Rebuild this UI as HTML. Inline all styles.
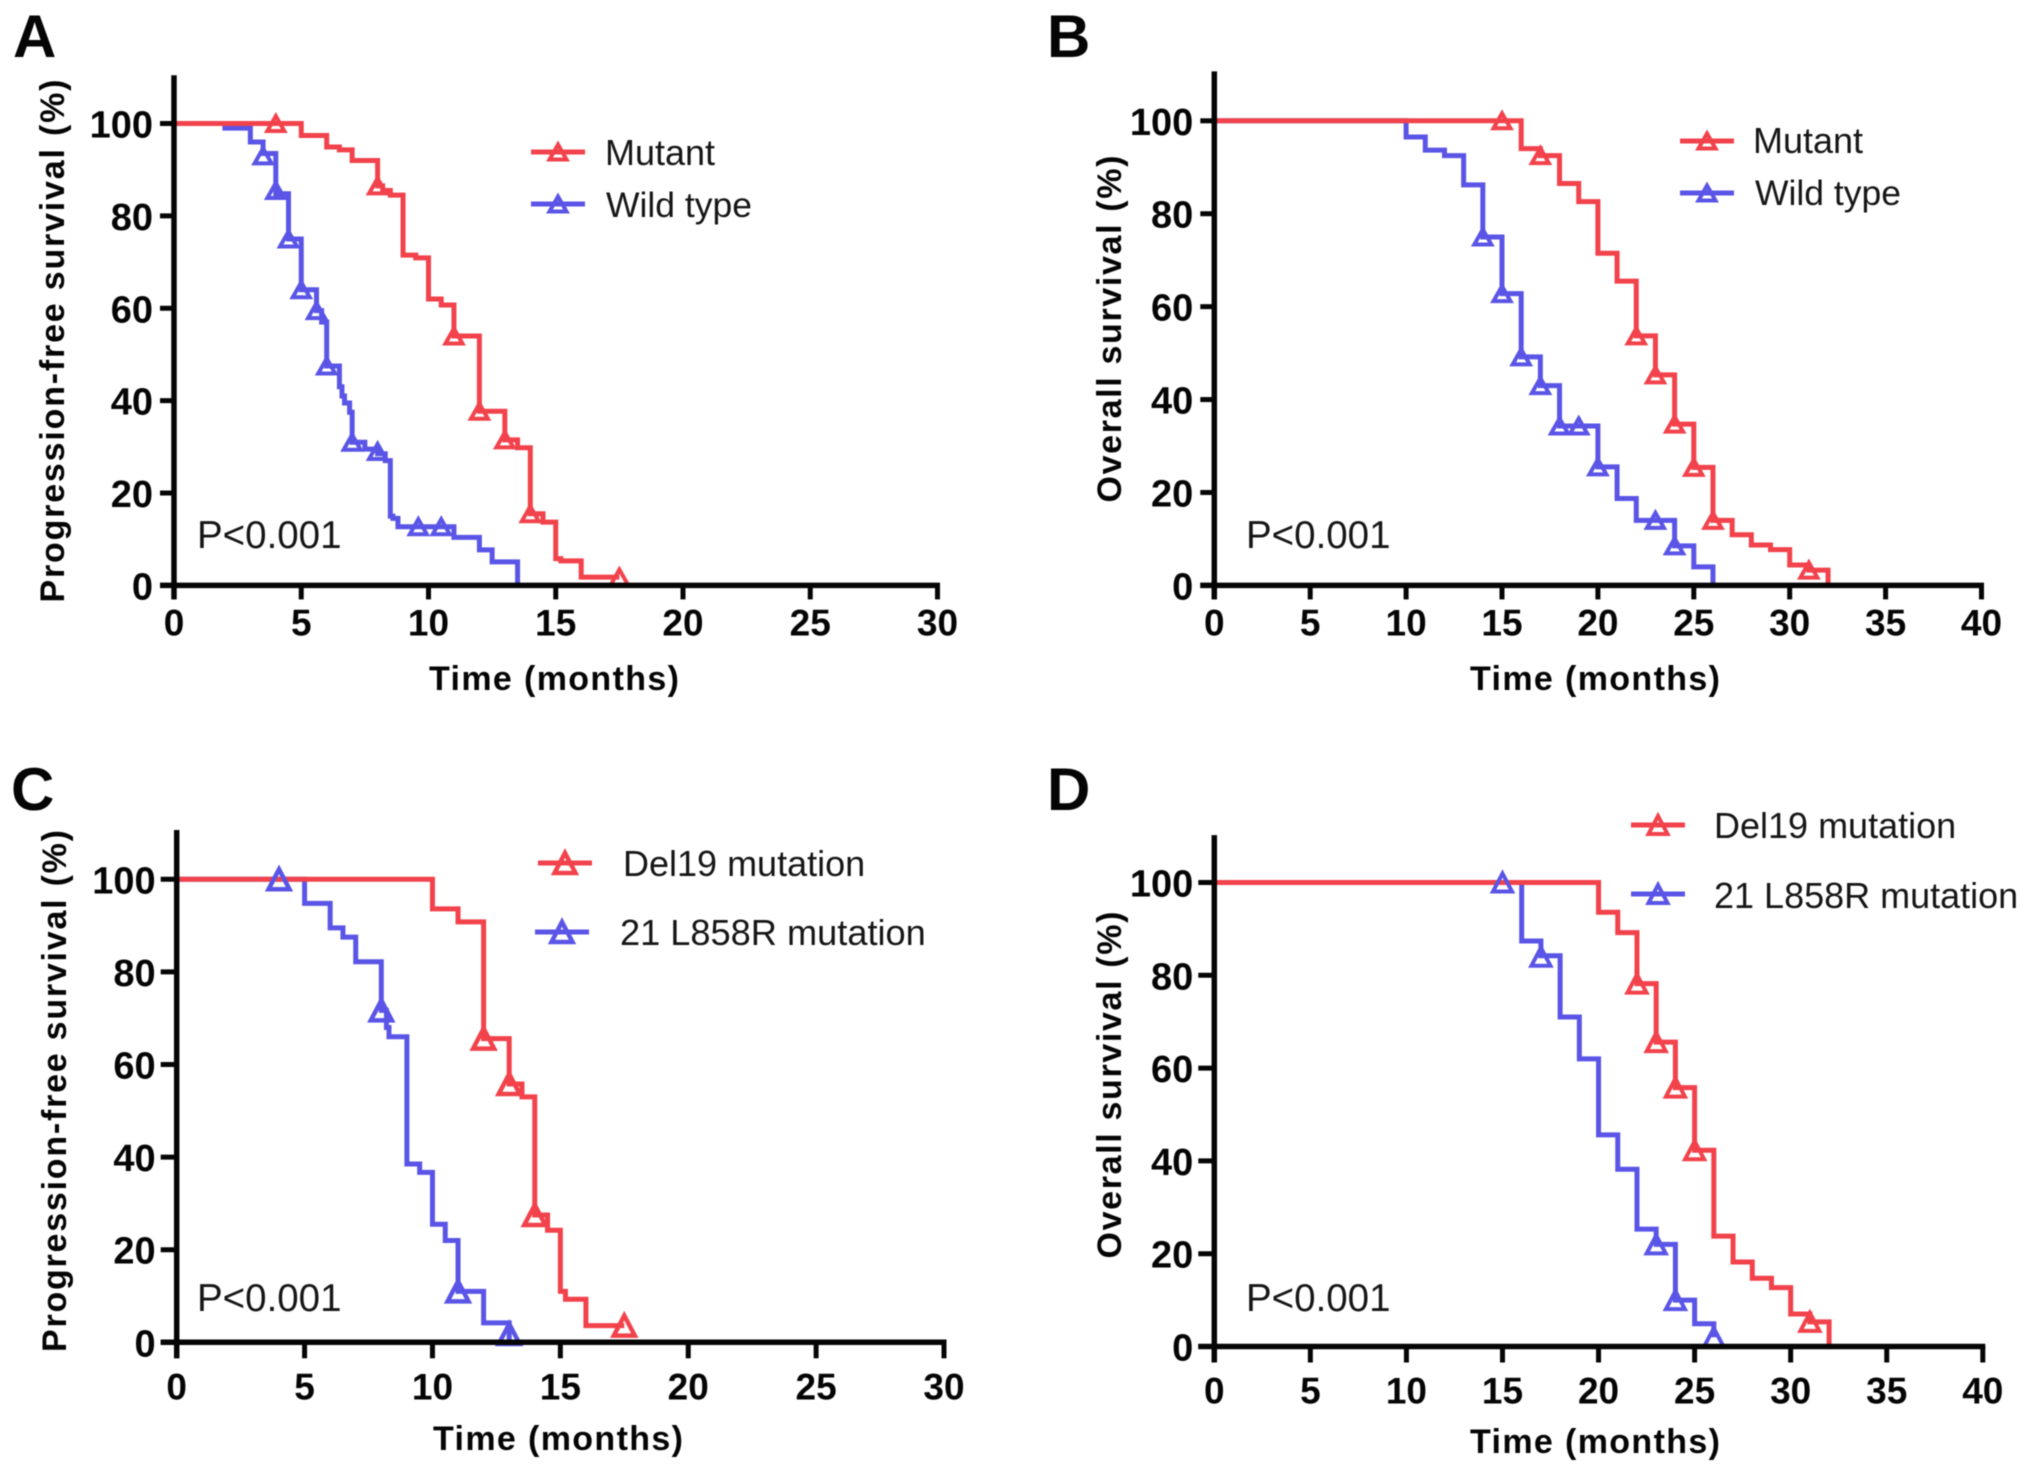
<!DOCTYPE html>
<html lang="en">
<head>
<meta charset="utf-8">
<title>Kaplan-Meier survival curves</title>
<style>
html,body{margin:0;padding:0;background:#fff;}
svg{display:block;filter:blur(0.6px);}
text{font-family:"Liberation Sans",Arial,sans-serif;}
</style>
</head>
<body>
<svg id="figure" xmlns="http://www.w3.org/2000/svg" width="2031" height="1474" viewBox="0 0 2031 1474"></svg>
<script>
var survivalTicks = [0, 20, 40, 60, 80, 100];
var monthTicks30 = [0, 5, 10, 15, 20, 25, 30];
var monthTicks40 = [0, 5, 10, 15, 20, 25, 30, 35, 40];

var aMutantTimes = [0, 5, 6, 6.5, 7, 8, 8.2, 8.5, 9, 9.5, 10, 10.5, 11, 12, 13, 13.5, 14, 14.5, 15, 15.2, 16, 17.5];
var aMutantSurvival = [100, 97.4, 94.9, 94.3, 92, 86.5, 85.5, 84.5, 71.5, 70.9, 62, 60.7, 54, 37.7, 31.5, 29.8, 15.5, 13.7, 5.8, 5.3, 1.8, 1.8];
var aMutantCensorTimes = [4, 8, 11, 12, 13, 14, 17.5];
var aMutantCensorSurvival = [100, 86.5, 54, 37.7, 31.5, 15.5, 1.8];
var aWildTimes = [0, 2, 3, 3.5, 4, 4.5, 5, 5.6, 5.8, 6, 6.5, 6.6, 6.7, 6.9, 7, 7.5, 8, 8.3, 8.5, 8.6, 8.8, 11, 12, 12.5, 13.5];
var aWildSurvival = [100, 99, 96, 93.5, 84.8, 75, 64, 59.5, 57, 47.5, 43, 41, 39.5, 37.5, 31, 29.5, 28.5, 27, 15, 14.5, 12.7, 10.4, 7.7, 5.1, 0];
var aWildCensorTimes = [3.5, 4, 4.5, 5, 5.6, 6, 7, 8, 9.6, 10.5];
var aWildCensorSurvival = [93, 85.5, 75, 64, 59.5, 47.5, 31, 29, 12.7, 12.7];

var bMutantTimes = [0, 16, 17, 18, 19, 20, 21, 22, 23, 24, 25, 26, 27, 28, 29, 30, 31, 32];
var bMutantSurvival = [100, 94, 92.5, 86.5, 82.6, 71.5, 65.5, 53.7, 45.3, 34.7, 25.4, 14, 10.9, 8.7, 7.7, 4.4, 3.3, 0];
var bMutantCensorTimes = [15, 17, 22, 23, 24, 25, 26, 31];
var bMutantCensorSurvival = [100, 92.5, 53.7, 45.3, 34.7, 25.4, 14, 3.3];
var bWildTimes = [0, 10, 11, 12, 13, 14, 15, 16, 17, 18, 20, 21, 22, 24, 25, 26];
var bWildSurvival = [100, 96.5, 93.7, 92.5, 86.2, 75, 62.8, 49.2, 43, 34.3, 25.5, 18.7, 14, 8.5, 4, 0];
var bWildCensorTimes = [14, 15, 16, 17, 18, 19, 20, 23, 24];
var bWildCensorSurvival = [75, 62.8, 49.2, 43, 34.3, 34.3, 25.5, 14, 8.5];

var cDel19Times = [0, 10, 11, 12, 13, 13.5, 14, 14.5, 15, 15.2, 16, 17.5];
var cDel19Survival = [100, 93.6, 90.8, 65.6, 55.8, 53, 27.5, 24.2, 11, 9.3, 3.6, 3.6];
var cDel19CensorTimes = [12, 13, 14, 17.5];
var cDel19CensorSurvival = [65.6, 55.8, 27.5, 3.6];
var cL858Times = [0, 5, 6, 6.5, 7, 8, 8.2, 8.3, 9, 9.5, 10, 10.5, 11, 12, 13];
var cL858Survival = [100, 94.8, 89.5, 87.5, 82.2, 71.7, 68, 66, 38.5, 36.7, 25.5, 22, 11, 4.2, 0];
var cL858CensorTimes = [4, 8, 11, 13];
var cL858CensorSurvival = [100, 71.7, 11, 1.8];

var dDel19Times = [0, 20, 21, 22, 23, 24, 25, 26, 27, 28, 29, 30, 31, 32];
var dDel19Survival = [100, 93.6, 89.2, 78.2, 65.6, 55.8, 42.3, 23.8, 18.2, 14.7, 12.7, 7, 5.3, 0];
var dDel19CensorTimes = [22, 23, 24, 25, 31];
var dDel19CensorSurvival = [78.2, 65.6, 55.8, 42.3, 5.3];
var dL858Times = [0, 16, 17, 18, 19, 20, 21, 22, 23, 24, 25, 26];
var dL858Survival = [100, 87.4, 84.2, 71, 62, 45.6, 38.2, 25.3, 22, 10, 4.9, 2];
var dL858CensorTimes = [15, 17, 23, 24, 26];
var dL858CensorSurvival = [100, 84, 22, 10, 2];

var RED = '#f2424b';
var BLUE = '#5a55e6';
var INK = '#050505';
var SOFT_INK = '#161616';
var NS = 'http://www.w3.org/2000/svg';
var figure = document.getElementById('figure');

function svgEl(tag, parent) {
  var el = document.createElementNS(NS, tag);
  parent.appendChild(el);
  return el;
}
function setAll(el, props) {
  for (var k in props) el.setAttribute(k, props[k]);
  return el;
}
function stepPath(times, values, xf, yf) {
  var d = 'M' + xf(times[0]) + ' ' + yf(values[0]);
  for (var i = 1; i < times.length; i++) {
    d += 'H' + xf(times[i]) + 'V' + yf(values[i]);
  }
  return d;
}
function trianglePoints(cx, cy, hw, hh) {
  return cx + ',' + (cy - hh) + ' ' + (cx + hw) + ',' + (cy + hh) + ' ' + (cx - hw) + ',' + (cy + hh);
}
function drawSeriesLine(group, series, xf, yf) {
  var line = svgEl('path', group);
  
  
  setAll(line, {d: stepPath(series.times, series.values, xf, yf), fill: 'none', stroke: series.color, 'stroke-width': 5, 'stroke-linejoin': 'miter'});
}
function drawSeriesMarkers(group, series, xf, yf, lay) {
  for (var i = 0; i < series.censorTimes.length; i++) {
    var mark = svgEl('polygon', group);
    
    
    setAll(mark, {points: trianglePoints(xf(series.censorTimes[i]), yf(series.censorValues[i]), lay.hw, lay.hh), fill: 'none', stroke: series.color, 'stroke-width': lay.mw});
  }
}
function drawLegendEntry(group, entry, lay) {
  var g = svgEl('g', group);
  
  
  var ln = svgEl('line', g);
  
  
  setAll(ln, {x1: entry.x1, x2: entry.x1 + 54, y1: entry.ly, y2: entry.ly, stroke: entry.color, 'stroke-width': 5});
  var tri = svgEl('polygon', g);
  
  
  setAll(tri, {points: trianglePoints(entry.x1 + 27, entry.ly, lay.hw, lay.hh), fill: 'none', stroke: entry.color, 'stroke-width': lay.mw});
  var t = svgEl('text', g);
  
  
  setAll(t, {x: entry.tx, y: entry.ty, 'font-size': entry.size, fill: SOFT_INK});
  t.textContent = entry.label;
}
function drawPanel(p) {
  var xf = function (v) { return p.x0 + (p.x1 - p.x0) * v / p.xMax; };
  var yf = function (v) { return p.y0 + (p.y100 - p.y0) * v / 100; };
  var g = svgEl('g', figure);
  
  

  var letter = svgEl('text', g);
  
  
  setAll(letter, {x: p.letterX, y: p.letterY, 'font-size': 60, 'font-weight': 'bold', fill: INK});
  letter.textContent = p.letter;

  p.series.forEach(function (s) { drawSeriesLine(g, s, xf, yf); });
  p.series.forEach(function (s) { drawSeriesMarkers(g, s, xf, yf, p); });

  var yAxis = svgEl('line', g);
  
  
  setAll(yAxis, {x1: p.x0, x2: p.x0, y1: yf(110) - p.axisExtra, y2: p.y0 + p.tickLen, stroke: INK, 'stroke-width': 5.5});
  var xAxis = svgEl('line', g);
  
  
  setAll(xAxis, {x1: p.x0 - p.tickLen, x2: p.x1 + 2.5, y1: p.y0, y2: p.y0, stroke: INK, 'stroke-width': 5.5});

  p.xTicks.forEach(function (v) {
    var tick = svgEl('line', g);
    
    
    setAll(tick, {x1: xf(v), x2: xf(v), y1: p.y0, y2: p.y0 + p.tickLen, stroke: INK, 'stroke-width': 5});
    var lab = svgEl('text', g);
    
    
    setAll(lab, {x: xf(v), y: p.y0 + p.xLabelGap, 'font-size': 37, 'font-weight': 'bold', 'text-anchor': 'middle', fill: INK});
    lab.textContent = v;
  });
  survivalTicks.forEach(function (v) {
    var tick = svgEl('line', g);
    
    
    setAll(tick, {x1: p.x0 - p.tickLen, x2: p.x0, y1: yf(v), y2: yf(v), stroke: INK, 'stroke-width': 5});
    var lab = svgEl('text', g);
    
    
    setAll(lab, {x: p.x0 - 21, y: yf(v) + 14, 'font-size': 38, 'font-weight': 'bold', 'text-anchor': 'end', fill: INK});
    lab.textContent = v;
  });

  var xt = svgEl('text', g);
  
  
  setAll(xt, {x: p.xTitleX, y: p.xTitleY, 'font-size': 34, 'font-weight': 'bold', 'text-anchor': 'middle', fill: INK, textLength: 250, lengthAdjust: 'spacing'});
  xt.textContent = 'Time (months)';

  var yt = svgEl('text', g);
  
  
  setAll(yt, {transform: 'translate(' + p.yTitleX + ',' + p.yTitleY + ') rotate(-90)', 'font-size': 34, 'font-weight': 'bold', 'text-anchor': 'middle', fill: INK, textLength: p.yTitleLen, lengthAdjust: 'spacing'});
  yt.textContent = p.yTitle;

  var pv = svgEl('text', g);
  
  
  setAll(pv, {x: p.pX, y: p.pY, 'font-size': 38.5, fill: SOFT_INK});
  pv.textContent = 'P<0.001';

  var legend = svgEl('g', g);
  
  
  p.legend.forEach(function (e) { drawLegendEntry(legend, e, p); });
}

drawPanel({
  letter: 'A', letterX: 13, letterY: 57,
  x0: 174, x1: 937.5, xMax: 30, y0: 585.4, y100: 123.5, tickLen: 14, xLabelGap: 50, axisExtra: 2,
  hw: 8.5, hh: 7.5, mw: 4,
  xTicks: monthTicks30,
  xTitleX: 554, xTitleY: 690,
  yTitle: 'Progression-free survival (%)', yTitleX: 64, yTitleY: 341, yTitleLen: 523,
  pX: 197, pY: 548,
  series: [
    {key: 'wild-type', color: BLUE, times: aWildTimes, values: aWildSurvival, censorTimes: aWildCensorTimes, censorValues: aWildCensorSurvival},
    {key: 'mutant', color: RED, times: aMutantTimes, values: aMutantSurvival, censorTimes: aMutantCensorTimes, censorValues: aMutantCensorSurvival}
  ],
  legend: [
    {label: 'Mutant', color: RED, x1: 531, ly: 152, tx: 605, ty: 165, size: 36},
    {label: 'Wild type', color: BLUE, x1: 531, ly: 204, tx: 606, ty: 217, size: 35.5}
  ]
});
drawPanel({
  letter: 'B', letterX: 1047, letterY: 57,
  x0: 1214.3, x1: 1981.5, xMax: 40, y0: 585.4, y100: 120.8, tickLen: 14, xLabelGap: 50, axisExtra: 3,
  hw: 8.5, hh: 7.5, mw: 4,
  xTicks: monthTicks40,
  xTitleX: 1595, xTitleY: 690,
  yTitle: 'Overall survival (%)', yTitleX: 1121, yTitleY: 329, yTitleLen: 347,
  pX: 1246, pY: 548,
  series: [
    {key: 'wild-type', color: BLUE, times: bWildTimes, values: bWildSurvival, censorTimes: bWildCensorTimes, censorValues: bWildCensorSurvival},
    {key: 'mutant', color: RED, times: bMutantTimes, values: bMutantSurvival, censorTimes: bMutantCensorTimes, censorValues: bMutantCensorSurvival}
  ],
  legend: [
    {label: 'Mutant', color: RED, x1: 1680, ly: 141, tx: 1753, ty: 153, size: 36},
    {label: 'Wild type', color: BLUE, x1: 1680, ly: 193, tx: 1755, ty: 205, size: 35.5}
  ]
});
drawPanel({
  letter: 'C', letterX: 11, letterY: 810,
  x0: 176.7, x1: 944, xMax: 30, y0: 1342.3, y100: 879.3, tickLen: 16, xLabelGap: 57, axisExtra: 3,
  hw: 10.5, hh: 10, mw: 4.5,
  xTicks: monthTicks30,
  xTitleX: 558, xTitleY: 1450,
  yTitle: 'Progression-free survival (%)', yTitleX: 66, yTitleY: 1091, yTitleLen: 522,
  pX: 197, pY: 1311,
  series: [
    {key: 'l858r', color: BLUE, times: cL858Times, values: cL858Survival, censorTimes: cL858CensorTimes, censorValues: cL858CensorSurvival},
    {key: 'del19', color: RED, times: cDel19Times, values: cDel19Survival, censorTimes: cDel19CensorTimes, censorValues: cDel19CensorSurvival}
  ],
  legend: [
    {label: 'Del19 mutation', color: RED, x1: 538, ly: 863, tx: 623, ty: 876, size: 36},
    {label: '21 L858R mutation', color: BLUE, x1: 535, ly: 932, tx: 620, ty: 945, size: 36.2}
  ]
});
drawPanel({
  letter: 'D', letterX: 1047, letterY: 810,
  x0: 1214.3, x1: 1982.8, xMax: 40, y0: 1346.5, y100: 882.5, tickLen: 16, xLabelGap: 57, axisExtra: 1,
  hw: 9.5, hh: 9, mw: 4,
  xTicks: monthTicks40,
  xTitleX: 1595, xTitleY: 1453,
  yTitle: 'Overall survival (%)', yTitleX: 1121, yTitleY: 1085, yTitleLen: 347,
  pX: 1246, pY: 1311,
  series: [
    {key: 'l858r', color: BLUE, times: dL858Times, values: dL858Survival, censorTimes: dL858CensorTimes, censorValues: dL858CensorSurvival},
    {key: 'del19', color: RED, times: dDel19Times, values: dDel19Survival, censorTimes: dDel19CensorTimes, censorValues: dDel19CensorSurvival}
  ],
  legend: [
    {label: 'Del19 mutation', color: RED, x1: 1631, ly: 825, tx: 1714, ty: 838, size: 36},
    {label: '21 L858R mutation', color: BLUE, x1: 1631, ly: 894, tx: 1714, ty: 908, size: 36}
  ]
});
</script>
</body>
</html>
